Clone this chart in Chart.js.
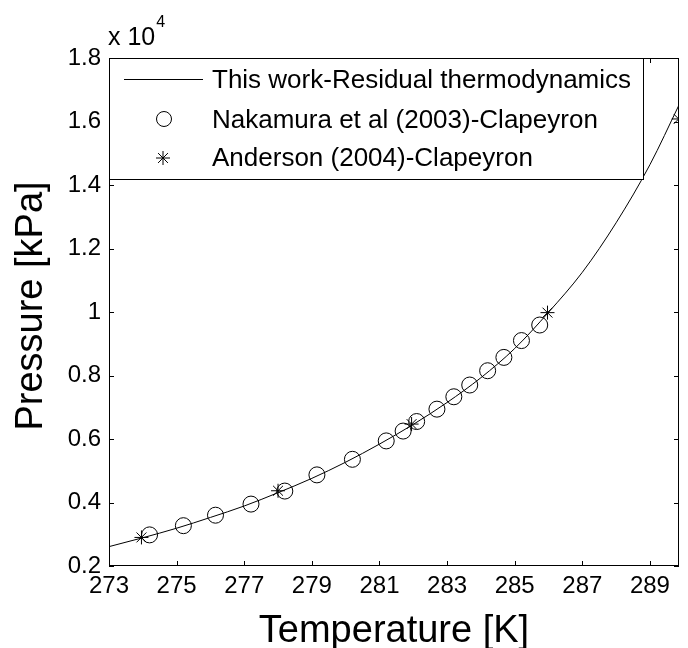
<!DOCTYPE html>
<html lang="en">
<head>
    <meta charset="UTF-8">
    <title>Pressure vs Temperature</title>
    <script src="https://cdn.jsdelivr.net/npm/chart.js@4.4.0/dist/chart.umd.min.js"></script>
    <style>
        body { margin: 0; background: #fff; }
        #wrap { width: 688px; height: 648px; }
    </style>
</head>
<body>
<div id="wrap"><canvas id="pt"></canvas></div>
<script>
// model curve (This work), T in K, P in kPa
const curveT = [273, 274, 275, 276, 277, 278, 279, 280, 281, 282, 283, 284, 285, 286, 287, 288, 289, 289.86];
const curveP = [2610, 2890, 3190, 3530, 3890, 4310, 4760, 5270, 5840, 6460, 7150, 7930, 8850, 9990, 11250, 12810, 14640, 16520];

// Nakamura et al (2003)
const nakT = [274.2, 275.2, 276.15, 277.2, 278.2, 279.15, 280.2, 281.2, 281.7, 282.1, 282.7, 283.2, 283.67, 284.2, 284.68, 285.2, 285.74];
const nakP = [2980, 3270, 3600, 3950, 4360, 4870, 5360, 5940, 6250, 6550, 6940, 7330, 7700, 8150, 8570, 9100, 9590];

// Anderson (2004)
const andT = [273.96, 278.0, 281.95, 285.97, 289.85];
const andP = [2900, 4370, 6470, 9980, 16080];

const xTicks = [273, 275, 277, 279, 281, 283, 285, 287, 289];
const yTicks = [2000, 4000, 6000, 8000, 10000, 12000, 14000, 16000, 18000];

const legendLabels = [
    'This work-Residual thermodynamics',
    'Nakamura et al (2003)-Clapeyron',
    'Anderson (2004)-Clapeyron'
];

const FONT = 'Liberation Sans, Arial, sans-serif';

function pts(xs, ys) {
    return xs.map((x, i) => ({ x: x, y: ys[i] }));
}

function drawStar(ctx, x, y, r) {
    const d = r * 0.7071;
    ctx.beginPath();
    ctx.moveTo(x - r, y); ctx.lineTo(x + r, y);
    ctx.moveTo(x, y - r); ctx.lineTo(x, y + r);
    ctx.moveTo(x - d, y - d); ctx.lineTo(x + d, y + d);
    ctx.moveTo(x - d, y + d); ctx.lineTo(x + d, y - d);
    ctx.stroke();
}

// frame, inward ticks, axis titles, exponent and legend box
const matlabLook = {
    id: 'matlabLook',
    afterDraw(chart) {
        const ctx = chart.ctx;
        const a = chart.chartArea;
        const xs = chart.scales.x, ys = chart.scales.y;
        ctx.save();
        ctx.strokeStyle = '#000';
        ctx.lineWidth = 1;
        ctx.strokeRect(Math.round(a.left) + 0.5, Math.round(a.top) + 0.5,
            Math.round(a.right - a.left) - 1, Math.round(a.bottom - a.top) - 1);

        const tl = 5;
        ctx.beginPath();
        xTicks.forEach(v => {
            const px = Math.round(xs.getPixelForValue(v)) + 0.5;
            ctx.moveTo(px, a.bottom); ctx.lineTo(px, a.bottom - tl);
            ctx.moveTo(px, a.top); ctx.lineTo(px, a.top + tl);
        });
        yTicks.forEach(v => {
            const py = Math.round(ys.getPixelForValue(v)) + 0.5;
            ctx.moveTo(a.left, py); ctx.lineTo(a.left + tl, py);
            ctx.moveTo(a.right, py); ctx.lineTo(a.right - tl, py);
        });
        ctx.stroke();

        // axis titles
        ctx.fillStyle = '#000';
        ctx.font = '38px ' + FONT;
        ctx.textAlign = 'center';
        ctx.textBaseline = 'alphabetic';
        ctx.fillText('Temperature [K]', (a.left + a.right) / 2, 642);
        ctx.save();
        ctx.translate(42, 306);
        ctx.rotate(-Math.PI / 2);
        ctx.fillText('Pressure [kPa]', 0, 0);
        ctx.restore();

        // exponent
        ctx.textAlign = 'left';
        ctx.font = '25px ' + FONT;
        ctx.fillText('x 10', 108, 45);
        const w = ctx.measureText('x 10').width;
        ctx.font = '16px ' + FONT;
        ctx.fillText('4', 108 + w + 1, 27);

        // legend
        const lx = Math.round(a.left) + 0.5, ly = Math.round(a.top) + 0.5;
        ctx.fillStyle = '#fff';
        ctx.fillRect(lx, ly, 534, 121);
        ctx.strokeRect(lx, ly, 534, 121);
        const rows = [80, 120, 158];
        ctx.beginPath();
        ctx.moveTo(124, rows[0] - 0.5); ctx.lineTo(203, rows[0] - 0.5);
        ctx.stroke();
        ctx.beginPath();
        ctx.arc(164, rows[1] - 1, 7.5, 0, Math.PI * 2);
        ctx.stroke();
        drawStar(ctx, 163, rows[2], 7);
        ctx.fillStyle = '#000';
        ctx.font = '26px ' + FONT;
        ctx.textBaseline = 'middle';
        legendLabels.forEach((t, i) => ctx.fillText(t, 212, rows[i] + 1));
        ctx.restore();
    }
};

new Chart(document.getElementById('pt').getContext('2d'), {
    type: 'scatter',
    data: {
        datasets: [
            {
                label: legendLabels[0],
                type: 'line',
                data: pts(curveT, curveP),
                borderColor: '#000',
                borderWidth: 1,
                pointRadius: 0,
                cubicInterpolationMode: 'monotone',
                fill: false
            },
            {
                label: legendLabels[1],
                data: pts(nakT, nakP),
                pointStyle: 'circle',
                pointRadius: 8,
                borderColor: '#000',
                borderWidth: 1,
                backgroundColor: 'rgba(0,0,0,0)'
            },
            {
                label: legendLabels[2],
                data: pts(andT, andP),
                pointStyle: 'star',
                pointRadius: 7,
                borderColor: '#000',
                borderWidth: 1,
                backgroundColor: 'rgba(0,0,0,0)'
            }
        ]
    },
    options: {
        responsive: true,
        maintainAspectRatio: false,
        animation: false,
        layout: { padding: { top: 58, right: 5, left: 0, bottom: 0 } },
        plugins: {
            legend: { display: false },
            tooltip: { enabled: false }
        },
        scales: {
            x: {
                type: 'linear',
                min: 273,
                max: 289.86,
                grid: { display: false, drawTicks: false },
                border: { display: false },
                afterBuildTicks: s => { s.ticks = xTicks.map(v => ({ value: v })); },
                afterFit: s => { s.height = 82; },
                ticks: {
                    color: '#000',
                    padding: 6,
                    maxRotation: 0,
                    font: { family: FONT, size: 24 },
                    callback: v => String(v)
                }
            },
            y: {
                type: 'linear',
                min: 2000,
                max: 18000,
                grid: { display: false, drawTicks: false },
                border: { display: false },
                afterBuildTicks: s => { s.ticks = yTicks.map(v => ({ value: v })); },
                afterFit: s => { s.width = 109; },
                ticks: {
                    color: '#000',
                    padding: 8,
                    font: { family: FONT, size: 24 },
                    callback: v => String(v / 10000)
                }
            }
        }
    },
    plugins: [matlabLook]
});
</script>
</body>
</html>
